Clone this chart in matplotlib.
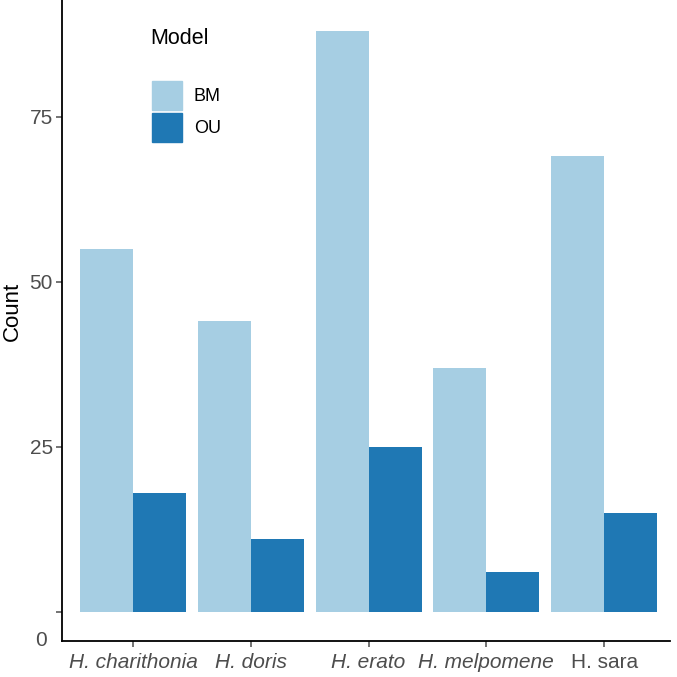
import matplotlib.pyplot as plt
import matplotlib.patches as mpatches
import numpy as np

plt.rcParams['font.family'] = ['Liberation Sans', 'DejaVu Sans']

species = ['H. charithonia', 'H. doris', 'H. erato', 'H. melpomene', 'H. sara']
bm = [55, 44, 88, 37, 69]
ou = [18, 11, 25, 6, 15]
models = ['BM', 'OU']
colors = ['#A6CEE3', '#1F78B4']

fig = plt.figure(figsize=(6.77, 6.77), dpi=100)
ax = fig.add_axes([0.0923, 0.0532, 0.8974, 0.9468])

x = np.arange(len(species))
w = 0.45
ax.bar(x - w / 2, bm, width=w, color=colors[0], label=models[0])
ax.bar(x + w / 2, ou, width=w, color=colors[1], label=models[1])

ax.set_xlim(-0.6, 4.56)
ax.set_ylim(-4.4, 92.7)

for s in ['top', 'right']:
    ax.spines[s].set_visible(False)
for s in ['left', 'bottom']:
    ax.spines[s].set_linewidth(1.3)
    ax.spines[s].set_color('black')

ax.set_yticks([0, 25, 50, 75])
ax.set_yticklabels(['', '25', '50', '75'])
ax.set_xticks(x)
ax.set_xticklabels(species)
for i, lab in enumerate(ax.get_xticklabels()):
    if i < 4:
        lab.set_style('italic')
ax.tick_params(axis='both', colors='#4D4D4D', labelsize=15, length=4, width=1.1)
ax.tick_params(axis='x', pad=5)
ax.tick_params(axis='y', pad=3)

# lone "0" label at the axis corner
ax.text(-0.025, -4.4, '0', transform=ax.get_yaxis_transform(), ha='right', va='center',
        fontsize=15, color='#4D4D4D')

fig.text(12 / 677, 1 - 311 / 677, 'Count', fontsize=16, rotation=90,
         ha='center', va='center')

# legend
fig.text(150 / 677, 1 - 38 / 677, 'Model', fontsize=15.5, ha='left', va='center')
handles = [mpatches.Patch(color=c, label=m) for c, m in zip(colors, models)]
leg = ax.legend(handles=handles, loc='upper left',
                bbox_to_anchor=(152 / 677, 1 - 81 / 677), bbox_transform=fig.transFigure,
                frameon=False, fontsize=13,
                handlelength=1.67, handleheight=2.1, handletextpad=0.65,
                labelspacing=0.17, borderpad=0, borderaxespad=0)

fig.savefig('out.png', dpi=100)
